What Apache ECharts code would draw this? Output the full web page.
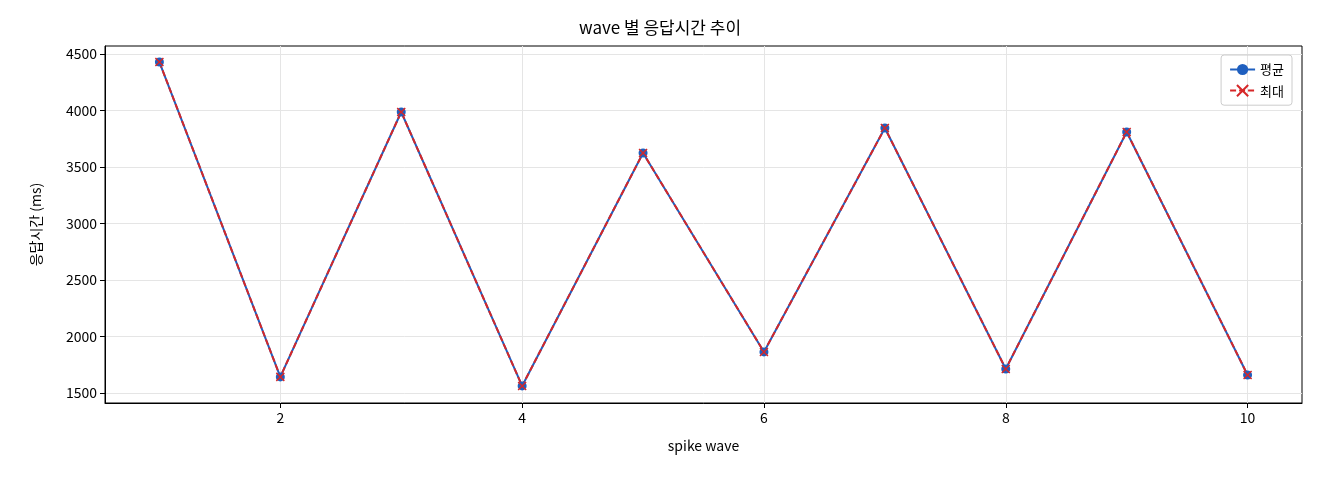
<!DOCTYPE html><html><head><meta charset="utf-8"><script src="https://cdn.jsdelivr.net/npm/echarts@6/dist/echarts.min.js"></script></head><body style="margin:0"><div id="c" style="width:1320px;height:480px"></div><script>
const waves=[1,2,3,4,5,6,7,8,9,10];
const avgVals=[4429,1642,3987,1562,3624,1863,3845,1712,3810,1659];
const maxVals=[4429,1642,3987,1562,3624,1863,3845,1712,3810,1659];
const xTicks=[2,4,6,8,10];
const yTicks=[1500,2000,2500,3000,3500,4000,4500];
const F='"Noto Sans CJK KR", "DejaVu Sans", sans-serif';
const ch=echarts.init(document.getElementById('c'));
ch.setOption({
textStyle:{fontFamily:F},
title:{text:'wave 별 응답시간 추이',left:'center',top:14,textStyle:{fontSize:17,fontWeight:'normal',color:'#000',fontFamily:F}},
legend:{right:28,top:55,orient:'vertical',itemGap:8,borderColor:'#ccc',borderWidth:1,borderRadius:3,padding:[8,8],textStyle:{fontSize:13,color:'#000'},
 data:[{name:'평균'},{name:'최대'}]},
grid:{left:105,right:18,top:46,bottom:77,show:true,borderColor:'#000',borderWidth:1},
xAxis:{type:'value',min:0.55,max:10.45,name:'spike wave',nameLocation:'middle',nameGap:36,nameTextStyle:{fontSize:14,color:'#000'},
 axisLine:{onZero:false,lineStyle:{color:'#000'}},axisTick:{customValues:xTicks,lineStyle:{color:'#000'}},axisLabel:{customValues:xTicks,color:'#000',fontSize:14,formatter:v=>String(v)},
 splitLine:{show:true,lineStyle:{color:'#e5e5e5'}}},
yAxis:{type:'value',min:1411,max:4571,name:'응답시간 (ms)',nameLocation:'middle',nameGap:62,nameTextStyle:{fontSize:14,color:'#000'},
 axisLine:{show:true,onZero:false,lineStyle:{color:'#000'}},axisTick:{show:true,customValues:yTicks,lineStyle:{color:'#000'}},axisLabel:{customValues:yTicks,color:'#000',fontSize:14,formatter:v=>String(v)},
 splitLine:{show:true,lineStyle:{color:'#e5e5e5'}}},
series:[
{name:'평균',type:'line',data:waves.map((w,i)=>[w,avgVals[i]]),symbol:'circle',symbolSize:9,itemStyle:{color:'#1f5fbf'},lineStyle:{color:'#1f5fbf',width:2}},
{name:'최대',type:'line',data:waves.map((w,i)=>[w,maxVals[i]]),symbol:'path://M-1,-1L1,1M1,-1L-1,1',symbolSize:8,itemStyle:{color:'#d62728',borderColor:'#d62728',borderWidth:1.5},lineStyle:{color:'#d62728',width:2,type:[6,3]}}
]});
</script></body></html>
